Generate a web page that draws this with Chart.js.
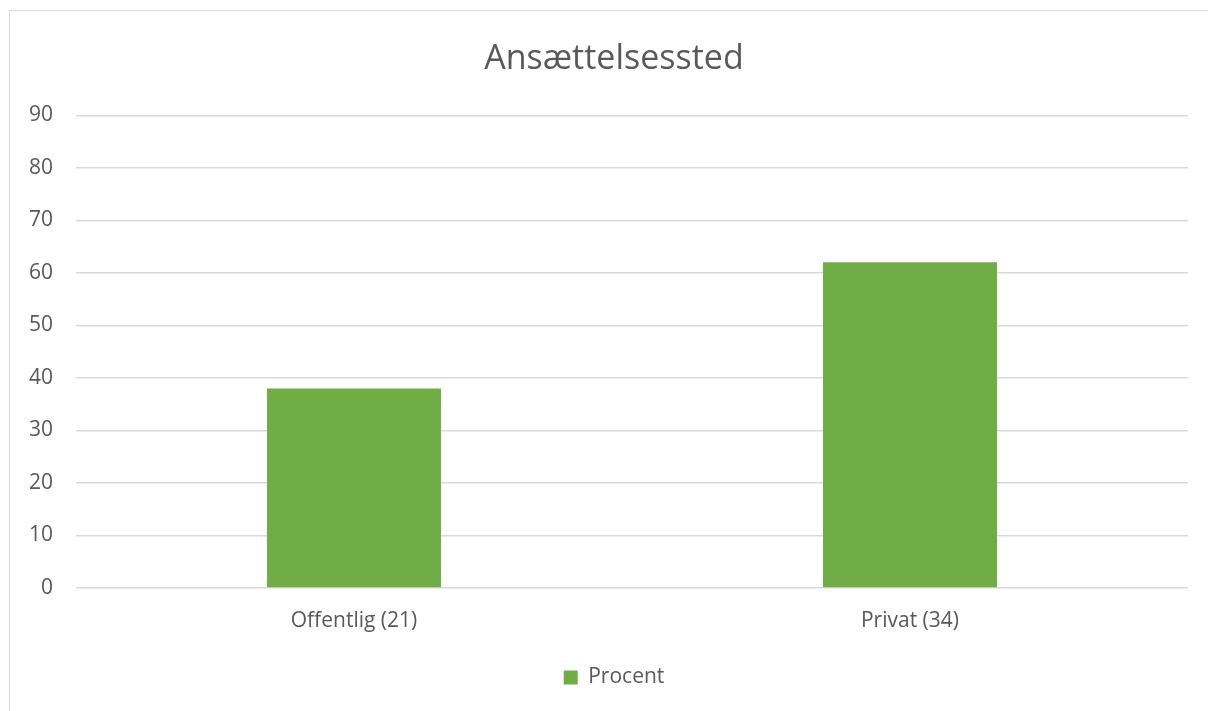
<!DOCTYPE html>
<html>
<head>
<meta charset="utf-8">
<title>Ansættelsessted</title>
<script src="https://cdn.jsdelivr.net/npm/chart.js@4"></script>
<style>
  html, body { margin: 0; padding: 0; background: #fff; overflow: hidden; }
  #frame { position: absolute; left: 9px; top: 10px; width: 1220px; height: 720px; border: 1px solid #d9d9d9; }
  #wrap { position: absolute; left: 0; top: 0; width: 1228px; height: 711px; }
</style>
</head>
<body>
<div id="frame"></div>
<div id="wrap"><canvas id="chart"></canvas></div>
<script>
// data
const categories = ['Offentlig (21)', 'Privat (34)'];
const procent = [38, 62];
const seriesName = 'Procent';
const chartTitle = 'Ansættelsessted';
const yMin = 0, yMax = 90, yStep = 10;

const textColor = '#595959';
const gridColor = '#d9d9d9';
const barColor = '#70ad47';
const fontFamily = '"Open Sans", "Noto Sans", sans-serif';

const ctx = document.getElementById('chart').getContext('2d');
new Chart(ctx, {
    type: 'bar',
    data: {
        labels: categories,
        datasets: [{
            label: seriesName,
            data: procent,
            backgroundColor: barColor,
            borderWidth: 0,
            categoryPercentage: 1,
            barPercentage: 0.313
        }]
    },
    options: {
        responsive: true,
        maintainAspectRatio: false,
        animation: false,
        layout: { padding: { left: 0, right: 0, top: 1, bottom: 13 } },
        scales: {
            x: {
                grid: { display: false },
                border: { display: false },
                ticks: { color: textColor, font: { family: fontFamily, size: 21 }, padding: 12 },
                afterFit: (s) => { s.height = 69; }
            },
            y: {
                min: yMin,
                max: yMax,
                grid: { color: gridColor, lineWidth: 1.5, drawTicks: false },
                border: { display: false },
                ticks: { stepSize: yStep, color: textColor, font: { family: fontFamily, size: 21 }, padding: 23 },
                afterFit: (s) => { s.width = 76; }
            },
            // empty right-hand space of the chart frame, so title and legend centre like the original
            yRight: {
                position: 'right',
                grid: { display: false },
                border: { display: false },
                ticks: { display: false },
                afterFit: (s) => { s.width = 40; }
            }
        },
        plugins: {
            title: {
                display: true,
                text: chartTitle,
                color: textColor,
                font: { family: fontFamily, size: 34, weight: 'normal' },
                padding: { top: 38, bottom: 35.5 }
            },
            legend: {
                position: 'bottom',
                labels: {
                    color: textColor,
                    font: { family: fontFamily, size: 21 },
                    boxWidth: 14,
                    boxHeight: 14,
                    padding: 10
                }
            },
            tooltip: { enabled: false }
        }
    }
});
</script>
</body>
</html>
